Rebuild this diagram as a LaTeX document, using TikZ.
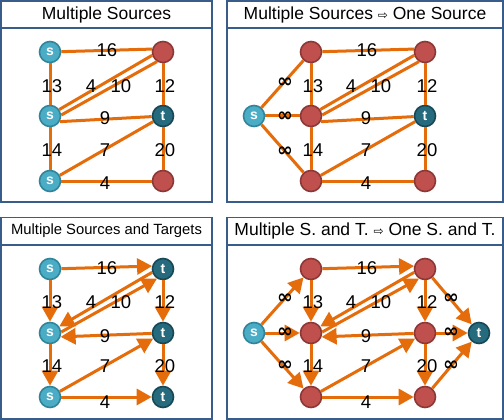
\documentclass[tikz,border=0pt]{standalone}
\usepackage{fontspec}
\setmainfont{Liberation Sans}
\newfontfamily\symfont{DejaVu Sans}
\usetikzlibrary{arrows.meta}
\definecolor{edgeorange}{RGB}{228,108,10}
\definecolor{frameblue}{RGB}{56,93,138}
\definecolor{srcfill}{RGB}{75,172,198}
\definecolor{srcline}{RGB}{49,133,155}
\definecolor{tgtfill}{RGB}{38,106,126}
\definecolor{tgtline}{RGB}{24,72,86}
\definecolor{redfill}{RGB}{192,80,77}
\definecolor{redline}{RGB}{140,56,54}
\newcommand{\hollowto}{{\symfont\fontsize{12}{12}\selectfont ⇨}}
\newcommand{\infsym}{{\symfont\bfseries ∞}}
\begin{document}
\begin{tikzpicture}[x = 1pt, y = -1pt,
    frame/.style = {draw = frameblue, line width = 1.5pt, fill = white},
    titlebox/.style = {frame, minimum width = 211pt, minimum height = 27pt,
      inner sep = 0pt, font = \fontsize{17.5}{20}\selectfont},
    widebox/.style = {titlebox, minimum width = 276pt},
    vtx/.style = {circle, minimum size = 21pt, inner sep = 0pt, line width = 1.6pt,
      text = white, font = \bfseries\fontsize{14}{14}\selectfont},
    src/.style = {vtx, fill = srcfill, draw = srcline},
    tgt/.style = {vtx, fill = tgtfill, draw = tgtline},
    mid/.style = {vtx, fill = redfill, draw = redline},
    edge/.style = {draw = edgeorange, line width = 3pt},
    arc/.style = {edge, -{Triangle[length = 15pt, width = 16pt]}},
    lbl/.style = {inner sep = 0pt, font = \fontsize{18.5}{18.5}\selectfont},
    inf/.style = {inner sep = 0pt, font = \fontsize{19}{19}\selectfont}]
  \useasboundingbox (0,0) rectangle (504,420);

  % frames and titles
  \draw [frame] (1,28) rectangle (212,202);
  \draw [frame] (227,28) rectangle (503,202);
  \draw [frame] (1,245) rectangle (212,419);
  \draw [frame] (227,245) rectangle (503,419);
  \node [titlebox] (T1) at (106.5,14.5) {Multiple Sources};
  \node [widebox] (T2) at (365,14.5) {Multiple Sources \hollowto{} One Source};
  \node [titlebox, font = \fontsize{14.8}{18}\selectfont] (T3) at (106.5,231)
    {Multiple Sources and Targets};
  \node [widebox] (T4) at (365,231) {Multiple S. and T. \hollowto{} One S. and T.};

  % multiple sources
  \node [src] (Au) at (50,52) {s};
  \node [src] (Av) at (50,116) {s};
  \node [src] (Aw) at (50,181) {s};
  \node [mid] (Ax) at (163,52) {};
  \node [tgt] (Ay) at (163,116) {t};
  \node [mid] (Az) at (163,181) {};
  \draw [edge] (Au) -- (Ax.165);
  \draw [edge] (Au) -- (Av);
  \draw [edge] (Av.35) -- (Ax.197);
  \draw [edge] (Av.5) -- (Ax.238);
  \draw [edge] (Ax) -- (Ay);
  \draw [edge] (Av.-30) -- (Ay);
  \draw [edge] (Av) -- (Aw);
  \draw [edge] (Aw) -- (Ay);
  \draw [edge] (Ay) -- (Az);
  \draw [edge] (Aw) -- (Az);
  \node [lbl] (Aa) at (107,50) {16};
  \node [lbl] (Ab) at (52,86) {13};
  \node [lbl] (Ac) at (91,86) {4};
  \node [lbl] (Ad) at (121,86) {10};
  \node [lbl] (Ae) at (165,86) {12};
  \node [lbl] (Af) at (105,118) {9};
  \node [lbl] (Ag) at (52,150) {14};
  \node [lbl] (Ah) at (105,150) {7};
  \node [lbl] (Ai) at (165,150) {20};
  \node [lbl] (Aj) at (105,183) {4};

  % one source
  \node [src] (Bs) at (254,116) {s};
  \node [mid] (Bu) at (311,52) {};
  \node [mid] (Bv) at (311,116) {};
  \node [mid] (Bw) at (311,181) {};
  \node [mid] (Bx) at (425,52) {};
  \node [tgt] (By) at (425,116) {t};
  \node [mid] (Bz) at (425,181) {};
  \draw [edge] (Bs) -- (Bu);
  \draw [edge] (Bs) -- (Bv);
  \draw [edge] (Bs) -- (Bw);
  \draw [edge] (Bu) -- (Bx.165);
  \draw [edge] (Bu) -- (Bv);
  \draw [edge] (Bv.35) -- (Bx.197);
  \draw [edge] (Bv.5) -- (Bx.238);
  \draw [edge] (Bx) -- (By);
  \draw [edge] (Bv.-30) -- (By);
  \draw [edge] (Bv) -- (Bw);
  \draw [edge] (Bw) -- (By);
  \draw [edge] (By) -- (Bz);
  \draw [edge] (Bw) -- (Bz);
  \node [inf] (Bi1) at (285,83) {\infsym};
  \node [inf] (Bi2) at (285,117) {\infsym};
  \node [inf] (Bi3) at (285,152) {\infsym};
  \node [lbl] (Ba) at (367,50) {16};
  \node [lbl] (Bb) at (313,86) {13};
  \node [lbl] (Bc) at (351,86) {4};
  \node [lbl] (Bd) at (381,86) {10};
  \node [lbl] (Be) at (427,86) {12};
  \node [lbl] (Bf) at (366,118) {9};
  \node [lbl] (Bg) at (313,150) {14};
  \node [lbl] (Bh) at (366,150) {7};
  \node [lbl] (Bi) at (427,150) {20};
  \node [lbl] (Bj) at (366,183) {4};

  % multiple sources and targets
  \node [src] (Cu) at (50,269) {s};
  \node [src] (Cv) at (50,333) {s};
  \node [src] (Cw) at (50,397) {s};
  \node [tgt] (Cx) at (163,269) {t};
  \node [tgt] (Cy) at (163,333) {t};
  \node [tgt] (Cz) at (163,397) {t};
  \draw [arc] (Cu) -- (Cx.165);
  \draw [arc] (Cu) -- (Cv);
  \draw [arc] (Cx.197) -- (Cv.35);
  \draw [arc] (Cv.5) -- (Cx.238);
  \draw [arc] (Cx) -- (Cy);
  \draw [arc] (Cy) -- (Cv.-20);
  \draw [arc] (Cv) -- (Cw);
  \draw [arc] (Cw) -- (Cy);
  \draw [arc] (Cy) -- (Cz);
  \draw [arc] (Cw) -- (Cz);
  \node [lbl] (Ca) at (107,268) {16};
  \node [lbl] (Cb) at (52,302) {13};
  \node [lbl] (Cc) at (91,302) {4};
  \node [lbl] (Cd) at (121,302) {10};
  \node [lbl] (Ce) at (165,302) {12};
  \node [lbl] (Cf) at (105,336) {9};
  \node [lbl] (Cg) at (52,366) {14};
  \node [lbl] (Ch) at (105,366) {7};
  \node [lbl] (Ci) at (165,366) {20};
  \node [lbl] (Cj) at (105,402) {4};

  % one source and one target
  \node [src] (Ds) at (254,333) {s};
  \node [mid] (Du) at (311,269) {};
  \node [mid] (Dv) at (311,333) {};
  \node [mid] (Dw) at (311,397) {};
  \node [mid] (Dx) at (425,269) {};
  \node [mid] (Dy) at (425,333) {};
  \node [mid] (Dz) at (425,397) {};
  \node [tgt] (Dt) at (479,333) {t};
  \draw [arc] (Ds) -- (Du);
  \draw [arc] (Ds) -- (Dv);
  \draw [arc] (Ds) -- (Dw);
  \draw [arc] (Du) -- (Dx.165);
  \draw [arc] (Du) -- (Dv);
  \draw [arc] (Dx.197) -- (Dv.35);
  \draw [arc] (Dv.5) -- (Dx.238);
  \draw [arc] (Dx) -- (Dy);
  \draw [arc] (Dy) -- (Dv.-20);
  \draw [arc] (Dv) -- (Dw);
  \draw [arc] (Dw) -- (Dy);
  \draw [arc] (Dy) -- (Dz);
  \draw [arc] (Dw) -- (Dz);
  \draw [arc] (Dx) -- (Dt);
  \draw [arc] (Dy) -- (Dt);
  \draw [arc] (Dz) -- (Dt);
  \node [inf] (Di1) at (285,299) {\infsym};
  \node [inf] (Di2) at (285,333) {\infsym};
  \node [inf] (Di3) at (285,366) {\infsym};
  \node [inf] (Di4) at (451,299) {\infsym};
  \node [inf] (Di5) at (451,333) {\infsym};
  \node [inf] (Di6) at (451,366) {\infsym};
  \node [lbl] (Da) at (367,268) {16};
  \node [lbl] (Db) at (313,302) {13};
  \node [lbl] (Dc) at (351,302) {4};
  \node [lbl] (Dd) at (381,302) {10};
  \node [lbl] (De) at (427,302) {12};
  \node [lbl] (Df) at (366,336) {9};
  \node [lbl] (Dg) at (313,366) {14};
  \node [lbl] (Dh) at (366,366) {7};
  \node [lbl] (Di) at (427,366) {20};
  \node [lbl] (Dj) at (366,402) {4};
\end{tikzpicture}
\end{document}
